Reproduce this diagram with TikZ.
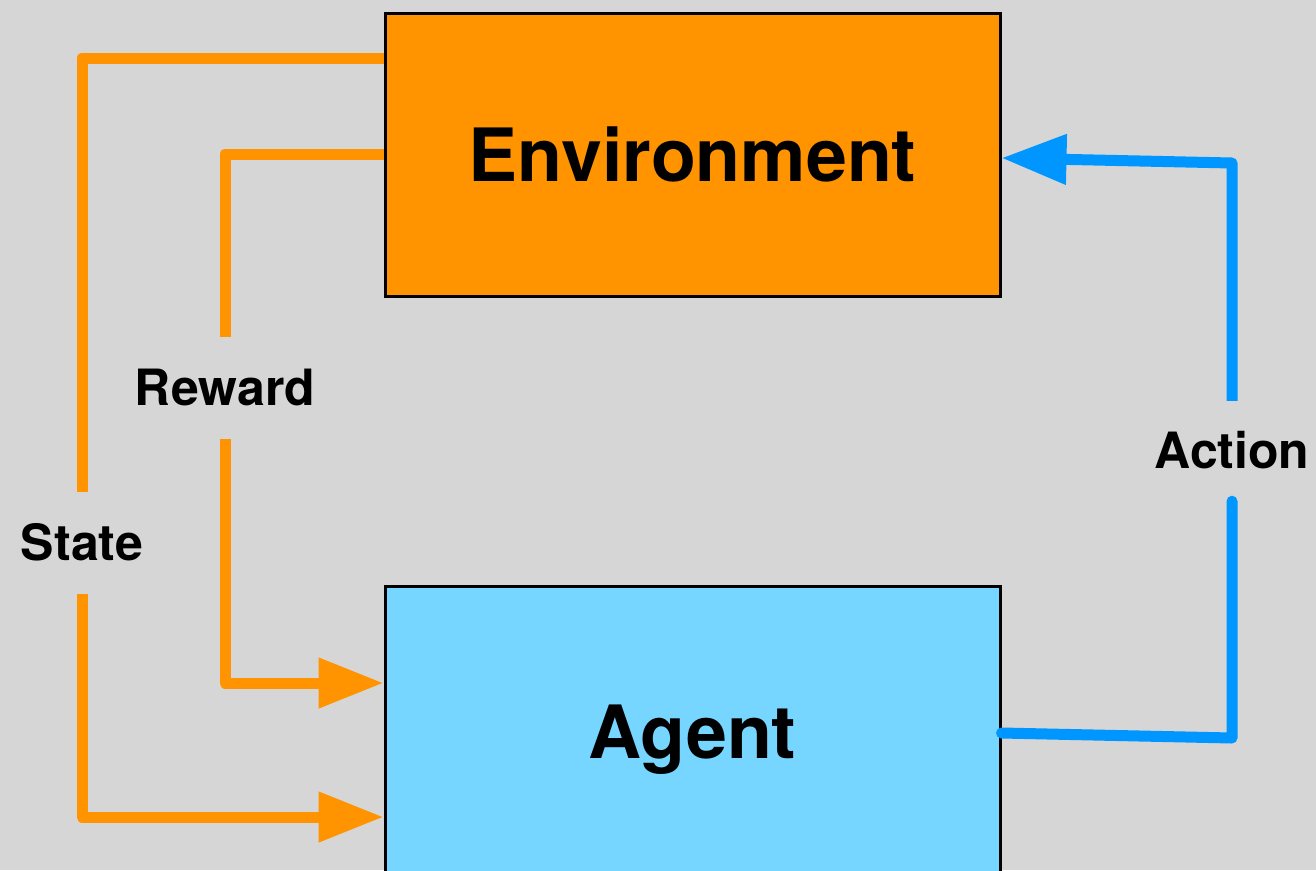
\documentclass[tikz,border=0pt]{standalone}
\usepackage{fontspec}
\setmainfont{TeX Gyre Heros}
\usetikzlibrary{arrows.meta}

\definecolor{bggray}{HTML}{D6D6D6}
\definecolor{envorange}{HTML}{FF9300}
\definecolor{agentsky}{HTML}{76D6FF}
\definecolor{actionblue}{HTML}{0096FF}

\tikzset{
  block/.style={draw=black, line width=3pt, inner sep=0pt,
    minimum width=615pt, minimum height=283pt,
    font=\fontsize{73.5}{88}\selectfont\bfseries, text depth=0pt},
  flowlabel/.style={inner sep=0pt, font=\fontsize{50}{60}\selectfont\bfseries,
    text height=35pt, text depth=0pt},
  flow/.style={line width=11pt, line join=round},
  flowtip/.style={-{Triangle[length=65pt,width=48pt]}},
}

\begin{document}
\begin{tikzpicture}[x=1pt,y=-1pt]
  % canvas
  \fill[bggray] (0,0) rectangle (1316,870);
  \useasboundingbox (0,0) rectangle (1316,870);

  % the two blocks (the agent runs past the bottom edge)
  \node[block, fill=envorange] (env) at (692.5,154.5) {Environment};
  \node[block, fill=agentsky, minimum height=292pt] (agent) at (692.5,732) {Agent};

  % labels that break the connectors
  \node[flowlabel, minimum height=102pt] (state) at (82,543) {State};
  \node[flowlabel, minimum height=102pt] (reward) at (225,388) {Reward};
  \node[flowlabel, minimum height=100pt] (action) at (1232,451) {Action};

  % end points on the block borders
  \coordinate (sOut) at (env.west |- 0,58);
  \coordinate (rOut) at (env.west |- 0,154);
  \coordinate (sIn) at (agent.west |- 0,817);
  \coordinate (rIn) at (agent.west |- 0,683);
  \coordinate (aOut) at (agent.east |- 0,733);
  \coordinate (aIn) at (env.east |- 0,158);
  \coordinate (aLow) at (1232,738);
  \coordinate (aHigh) at (1232,163);

  % state: environment -> agent
  \draw[flow, envorange] (sOut) -| (state.north);
  \draw[flow, envorange, flowtip] (state.south) |- (sIn);

  % reward: environment -> agent
  \draw[flow, envorange] (rOut) -| (reward.north);
  \draw[flow, envorange, flowtip] (reward.south) |- (rIn);

  % action: agent -> environment
  \draw[flow, actionblue, line cap=round] (aOut) -- (aLow) -- (action.south);
  \draw[flow, actionblue, flowtip] (action.north) -- (aHigh) -- (aIn);
\end{tikzpicture}
\end{document}
